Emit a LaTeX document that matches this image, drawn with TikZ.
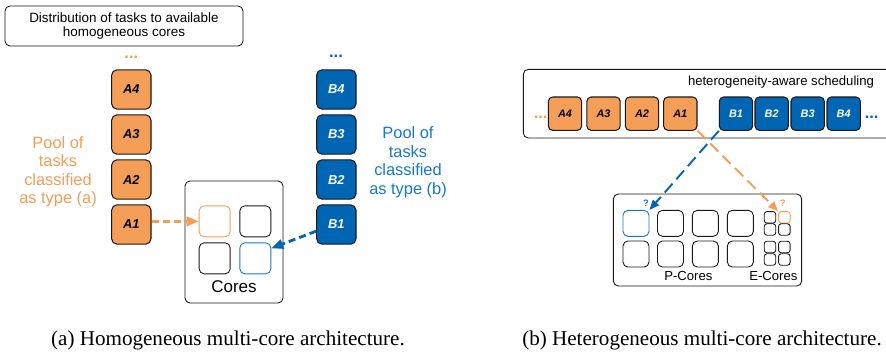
\documentclass[tikz,border=0pt]{standalone}
\usepackage{fontspec}
\setmainfont{Liberation Sans}
\newfontfamily\capfont{Liberation Serif}
\usepackage{xcolor}
\usetikzlibrary{positioning,arrows.meta,calc}
\definecolor{taskorange}{RGB}{245,158,87}
\definecolor{taskblue}{RGB}{0,101,178}
\definecolor{poolblue}{RGB}{24,120,200}

\begin{document}
\begin{tikzpicture}[
    font=\fontsize{11}{13}\selectfont,
    frame/.style={
        draw=black!90,
        rounded corners=1.5mm,
        line width=0.75pt,
        fill=white
    },
    taskA/.style={
        draw=black!90,
        rounded corners=1.6mm,
        line width=0.9pt,
        minimum size=1.18cm,
        inner sep=0pt,
        fill=taskorange,
        font=\fontsize{11}{13}\selectfont\bfseries\itshape
    },
    taskB/.style={taskA, fill=taskblue, text=white},
    htaskA/.style={
        taskA,
        minimum size=1.0cm,
        rounded corners=1.3mm,
        font=\fontsize{9.3}{11}\selectfont\bfseries\itshape
    },
    htaskB/.style={htaskA, fill=taskblue, text=white},
    core/.style={
        draw=black!90,
        rounded corners=1.5mm,
        line width=0.75pt,
        minimum size=0.93cm,
        inner sep=0pt
    },
    pcore/.style={core, minimum size=0.78cm},
    ecore/.style={core, minimum size=0.345cm, rounded corners=0.8mm},
    pool/.style={align=center, font=\fontsize{14}{15.8}\selectfont},
    dots/.style={anchor=base, font=\fontsize{14}{15}\selectfont\bfseries},
    distarr/.style={
        line width=2.4pt,
        dash pattern=on 6pt off 3.5pt,
        -{Triangle[length=3.6mm,width=2.8mm]}
    },
    schedarr/.style={
        line width=1.6pt,
        dash pattern=on 10pt off 5pt,
        -{Triangle[length=3mm,width=2.4mm]}
    }
]
\useasboundingbox (0,0) rectangle (26.58,-10.56);

% (a) homogeneous cores
\node[frame, minimum width=7.14cm, minimum height=1.2cm, align=center,
      font=\fontsize{11.5}{12.5}\selectfont] (title) at (3.72,-0.78)
{Distribution of tasks to available\\homogeneous cores};

\node[dots, text=taskorange] (adots) at (3.94,-1.74) {...};
\node[taskA] (a4) at (3.94,-2.685) {A4};
\node[taskA] (a3) at (3.94,-4.035) {A3};
\node[taskA] (a2) at (3.94,-5.385) {A2};
\node[taskA] (a1) at (3.94,-6.735) {A1};

\node[dots, text=taskblue] (bdots) at (10.08,-1.71) {...};
\node[taskB] (b4) at (10.09,-2.685) {B4};
\node[taskB] (b3) at (10.09,-4.035) {B3};
\node[taskB] (b2) at (10.09,-5.385) {B2};
\node[taskB] (b1) at (10.09,-6.735) {B1};

\node[pool, text=taskorange] (poolA) at (1.74,-5.15)
{Pool of\\tasks\\classified\\as type (a)};
\node[pool, text=poolblue] (poolB) at (12.24,-4.87)
{Pool of\\tasks\\classified\\as type (b)};

\node[frame, minimum width=2.94cm, minimum height=3.66cm] (cores) at (7.02,-7.26) {};
\node[core, draw=taskorange] (ca) at (6.44,-6.64) {};
\node[core] (cb) at (7.66,-6.64) {};
\node[core] (cc) at (6.44,-7.75) {};
\node[core, draw=poolblue] (cd) at (7.66,-7.75) {};
\node[font=\fontsize{14.5}{16}\selectfont] (coreslabel) at (7.02,-8.61) {Cores};

\draw[distarr, taskorange] (a1.east |- ca.west) -- (ca.west);
\draw[distarr, taskblue] ([yshift=-0.2cm]b1.west) -- ([yshift=0.3cm]cd.east);

% (b) heterogeneous cores
\node[frame, minimum width=11.5cm, minimum height=2.06cm] (sched) at (21.45,-3.11) {};
\node[font=\fontsize{11.2}{13}\selectfont] (schedlabel) at (23.43,-2.46)
{heterogeneity-aware scheduling};

\node[dots, text=taskorange] (hadots) at (16.22,-3.56) {...};
\node[htaskA] (ha4) at (16.95,-3.41) {A4};
\node[htaskA] (ha3) at (18.105,-3.41) {A3};
\node[htaskA] (ha2) at (19.26,-3.41) {A2};
\node[htaskA] (ha1) at (20.41,-3.41) {A1};
\node[htaskB] (hb1) at (22.08,-3.41) {B1};
\node[htaskB] (hb2) at (23.15,-3.41) {B2};
\node[htaskB] (hb3) at (24.23,-3.41) {B3};
\node[htaskB] (hb4) at (25.31,-3.41) {B4};
\node[dots, text=taskblue] (hbdots) at (26.15,-3.56) {...};

\node[frame, minimum width=5.65cm, minimum height=2.76cm] (hcores) at (21.225,-7.2) {};
\node[pcore, draw=poolblue] (p11) at (19.08,-6.70) {};
\node[pcore] (p12) at (20.115,-6.70) {};
\node[pcore] (p13) at (21.16,-6.70) {};
\node[pcore] (p14) at (22.21,-6.70) {};
\node[pcore] (p21) at (19.08,-7.62) {};
\node[pcore] (p22) at (20.115,-7.62) {};
\node[pcore] (p23) at (21.16,-7.62) {};
\node[pcore] (p24) at (22.21,-7.62) {};

\node[ecore] (e11) at (23.10,-6.52) {};
\node[ecore, draw=taskorange] (e12) at (23.53,-6.52) {};
\node[ecore] (e21) at (23.10,-6.885) {};
\node[ecore] (e22) at (23.53,-6.885) {};
\node[ecore] (e31) at (23.10,-7.41) {};
\node[ecore] (e32) at (23.53,-7.41) {};
\node[ecore] (e41) at (23.10,-7.785) {};
\node[ecore] (e42) at (23.53,-7.785) {};

\node[font=\fontsize{11.2}{13}\selectfont] (plabel) at (20.65,-8.28) {P-Cores};
\node[font=\fontsize{11.2}{13}\selectfont] (elabel) at (23.2,-8.28) {E-Cores};

\node[font=\fontsize{8}{9}\selectfont\bfseries, text=poolblue] (qb) at (19.38,-6.10) {?};
\node[font=\fontsize{8}{9}\selectfont\bfseries, text=taskorange] (qa) at (23.48,-6.09) {?};

\draw[schedarr, taskblue] (hb1.south west) -- (p11.north east);
\draw[schedarr, taskorange] (ha1.south east) -- (e12.north west);

% captions
\node[font=\capfont\fontsize{18}{20}\selectfont] (capA) at (6.84,-10.2)
{(a) Homogeneous multi-core architecture.};
\node[font=\capfont\fontsize{18}{20}\selectfont] (capB) at (21.06,-10.2)
{(b) Heterogeneous multi-core architecture.};

\end{tikzpicture}
\end{document}
